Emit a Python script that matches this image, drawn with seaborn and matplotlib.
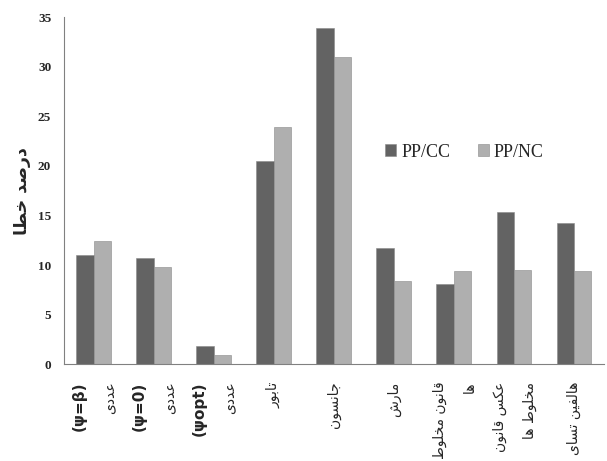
import matplotlib
matplotlib.use("Agg")
import matplotlib.pyplot as plt
import matplotlib.transforms as mtransforms
import numpy as np
import pandas as pd
import seaborn as sns

# data
categories = [
    "(ψ=β)\nعددی",
    "(ψ=0)\nعددی",
    "(ψopt)\nعددی",
    "تابور",
    "جانسون",
    "مارش",
    "قانون مخلوط\nها",
    "عکس قانون\nمخلوط ها",
    "هالفین تسای",
]
pp_cc = [11.0, 10.7, 1.8, 20.5, 33.9, 11.7, 8.1, 15.3, 14.2]
pp_nc = [12.4, 9.8, 0.9, 23.9, 31.0, 8.4, 9.4, 9.5, 9.4]
series_names = ["PP/CC", "PP/NC"]
y_label = "درصد خطا"

# matplotlib has no arabic shaping, so map letters to presentation forms by hand
# (isolated, final, initial, medial); two entries = letter joins only to the right
FORMS = {
    "ا": ("\uFE8D", "\uFE8E"),
    "د": ("\uFEA9", "\uFEAA"),
    "ر": ("\uFEAD", "\uFEAE"),
    "و": ("\uFEED", "\uFEEE"),
    "ب": ("\uFE8F", "\uFE90", "\uFE91", "\uFE92"),
    "ت": ("\uFE95", "\uFE96", "\uFE97", "\uFE98"),
    "ج": ("\uFE9D", "\uFE9E", "\uFE9F", "\uFEA0"),
    "خ": ("\uFEA5", "\uFEA6", "\uFEA7", "\uFEA8"),
    "س": ("\uFEB1", "\uFEB2", "\uFEB3", "\uFEB4"),
    "ش": ("\uFEB5", "\uFEB6", "\uFEB7", "\uFEB8"),
    "ص": ("\uFEB9", "\uFEBA", "\uFEBB", "\uFEBC"),
    "ط": ("\uFEC1", "\uFEC2", "\uFEC3", "\uFEC4"),
    "ع": ("\uFEC9", "\uFECA", "\uFECB", "\uFECC"),
    "ف": ("\uFED1", "\uFED2", "\uFED3", "\uFED4"),
    "ق": ("\uFED5", "\uFED6", "\uFED7", "\uFED8"),
    "ل": ("\uFEDD", "\uFEDE", "\uFEDF", "\uFEE0"),
    "م": ("\uFEE1", "\uFEE2", "\uFEE3", "\uFEE4"),
    "ن": ("\uFEE5", "\uFEE6", "\uFEE7", "\uFEE8"),
    "ه": ("\uFEE9", "\uFEEA", "\uFEEB", "\uFEEC"),
    "ی": ("\uFEEF", "\uFEF0", "\uFEF3", "\uFEF4"),
    "ک": ("\uFED9", "\uFEDA", "\uFEDB", "\uFEDC"),
}


def is_persian(line):
    return any(ch in FORMS for ch in line)


def shape_line(line):
    if not is_persian(line):
        return line
    out = []
    for i, ch in enumerate(line):
        if ch not in FORMS:
            out.append(ch)
            continue
        f = FORMS[ch]
        prev = line[i - 1] if i > 0 else ""
        nxt = line[i + 1] if i + 1 < len(line) else ""
        join_prev = prev in FORMS and len(FORMS[prev]) == 4
        join_next = len(f) == 4 and nxt in FORMS
        if join_prev and join_next:
            out.append(f[3])
        elif join_next:
            out.append(f[2])
        elif join_prev:
            out.append(f[1])
        else:
            out.append(f[0])
    return "".join(reversed(out))


df = pd.DataFrame({
    "category": categories * 2,
    "series": [series_names[0]] * len(categories) + [series_names[1]] * len(categories),
    "value": pp_cc + pp_nc,
})

sns.set_style("white")
plt.rcParams["font.family"] = ["DejaVu Sans"]

fig = plt.figure(figsize=(6.07, 4.61), dpi=100)
ax = fig.add_axes([0.105, 0.21, 0.89, 0.753])

sns.barplot(
    data=df, x="category", y="value", hue="series", order=categories,
    palette=["#636363", "#afafaf"], width=0.58, saturation=1,
    edgecolor="#8a8a8a", linewidth=0.4, ax=ax,
)

ax.set_xlim(-0.5, len(categories) - 0.5)
ax.set_ylim(0, 35)
ax.set_yticks(np.arange(0, 36, 5))
ax.set_yticks(np.arange(0, 36, 1), minor=True)
ax.set_xticks(np.arange(-0.5, len(categories), 1), minor=True)

serif_bold = {"family": "Liberation Serif", "weight": "bold", "size": 9.5}
ax.set_yticklabels([str(v) for v in range(0, 36, 5)], fontdict=serif_bold)

# category labels: one rotated text per line so the ψ line can be bold
ax.set_xticks([])
trans = mtransforms.blended_transform_factory(ax.transData, ax.transAxes)
for i, cat in enumerate(categories):
    lines = cat.split("\n")
    offsets = [0.0] if len(lines) == 1 else [-0.24, 0.26]
    for line, dx in zip(lines, offsets):
        persian = is_persian(line)
        ax.text(
            i + dx, -0.05, shape_line(line), transform=trans, rotation=90,
            ha="center", va="top",
            fontsize=10 if persian else 11,
            fontweight="normal" if persian else "bold",
        )

ax.tick_params(axis="x", which="minor", length=5, color="#808080", direction="out")
ax.tick_params(axis="y", which="major", length=5, color="#808080", direction="out", pad=4)
ax.tick_params(axis="y", which="minor", length=3, color="#808080", direction="out")

for side in ["top", "right"]:
    ax.spines[side].set_visible(False)
for side in ["left", "bottom"]:
    ax.spines[side].set_color("#808080")
    ax.spines[side].set_linewidth(0.8)

ax.set_xlabel("")
ax.set_ylabel(shape_line(y_label), fontsize=12.5, fontweight="bold", labelpad=5)

ax.legend(
    loc="center", bbox_to_anchor=(0.742, 0.611), ncol=2, frameon=False,
    handlelength=0.6, handleheight=0.6, handletextpad=0.3, columnspacing=1.5,
    prop={"family": "Liberation Serif", "size": 13},
)

fig.savefig("out.png", dpi=100)
